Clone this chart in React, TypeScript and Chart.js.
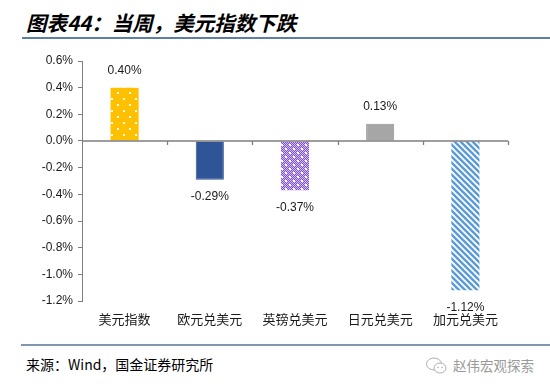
import React, { useEffect, useRef } from "react";
import { Chart, registerables } from "chart.js";

Chart.register(...registerables);

const categories: string[] = ["美元指数", "欧元兑美元", "英镑兑美元", "日元兑美元", "加元兑美元"];
const values: number[] = [0.4, -0.29, -0.37, 0.13, -1.12];
const valueLabels: string[] = ["0.40%", "-0.29%", "-0.37%", "0.13%", "-1.12%"];
const yMin = -1.2;
const yMax = 0.6;
const yStep = 0.2;

const TITLE = "图表44：当周，美元指数下跌";
const SOURCE = "来源：Wind，国金证券研究所";
const WATERMARK = "赵伟宏观探索";

function makeTile(w: number, h: number, draw: (c: CanvasRenderingContext2D) => void): CanvasPattern | string {
  const cv = document.createElement("canvas");
  cv.width = w;
  cv.height = h;
  const c = cv.getContext("2d");
  if (!c) return "#888";
  draw(c);
  const p = c.createPattern(cv, "repeat");
  return p || "#888";
}

function buildFills() {
  const yellow = makeTile(12, 12, (c) => {
    c.fillStyle = "#FFC000";
    c.fillRect(0, 0, 12, 12);
    c.fillStyle = "rgba(255,255,255,0.95)";
    c.fillRect(3, 3, 2, 2);
    c.fillRect(9, 9, 2, 2);
  });
  const purple = makeTile(8, 8, (c) => {
    c.fillStyle = "#D2C0EE";
    c.fillRect(0, 0, 8, 8);
    c.fillStyle = "#8250CC";
    for (let y = 0; y < 8; y++) {
      for (let x = 0; x < 8; x++) {
        if ((x + y) % 2 === 0) c.fillRect(x, y, 1, 1);
      }
    }
    c.fillStyle = "#ffffff";
    c.fillRect(1, 1, 2, 2);
    c.fillRect(5, 5, 2, 2);
  });
  const stripes = makeTile(6, 6, (c) => {
    c.fillStyle = "#ffffff";
    c.fillRect(0, 0, 6, 6);
    c.strokeStyle = "#5B9BD5";
    c.lineWidth = 2.4;
    c.beginPath();
    c.moveTo(-3, -3);
    c.lineTo(9, 9);
    c.moveTo(-3, 3);
    c.lineTo(3, 9);
    c.moveTo(3, -3);
    c.lineTo(9, 3);
    c.stroke();
  });
  return [yellow, "#2F5597", purple, "#A6A6A6", stripes];
}

const zeroLinePlugin = {
  id: "zeroLine",
  afterDatasetsDraw(chart: any) {
    const { ctx, chartArea, scales } = chart;
    const y0 = scales.y.getPixelForValue(0);
    ctx.save();
    ctx.strokeStyle = "#7f7f7f";
    ctx.lineWidth = 1.3;
    ctx.beginPath();
    ctx.moveTo(chartArea.left, y0);
    ctx.lineTo(chartArea.right, y0);
    const n = categories.length;
    const w = (chartArea.right - chartArea.left) / n;
    for (let i = 1; i <= n; i++) {
      const x = Math.round(chartArea.left + w * i) + 0.5;
      ctx.moveTo(x, y0);
      ctx.lineTo(x, y0 + 4);
    }
    ctx.stroke();
    ctx.restore();
  },
};

const valueLabelPlugin = {
  id: "valueLabels",
  afterDatasetsDraw(chart: any) {
    const { ctx } = chart;
    const meta = chart.getDatasetMeta(0);
    ctx.save();
    ctx.font = "12px 'Liberation Sans', Arial, sans-serif";
    ctx.fillStyle = "#1a1a1a";
    ctx.textAlign = "center";
    ctx.textBaseline = "middle";
    meta.data.forEach((el: any, i: number) => {
      const v = values[i];
      const y = v >= 0 ? el.y - 17 : el.y + 17;
      ctx.fillText(valueLabels[i], el.x, y);
    });
    ctx.restore();
  },
};

function ChartBox() {
  const ref = useRef<HTMLCanvasElement | null>(null);
  useEffect(() => {
    if (!ref.current) return;
    const fills = buildFills();
    const chart = new Chart(ref.current, {
      type: "bar",
      data: {
        labels: categories,
        datasets: [
          {
            data: values,
            backgroundColor: fills as any,
            borderColor: ["#FFC000", "#2F5597", "#8a62c8", "#8f8f8f", "#8fb8e3"],
            borderWidth: [0, 1, 0, 1, 0],
            barPercentage: 0.33,
            categoryPercentage: 1,
          },
        ],
      },
      options: {
        animation: false,
        responsive: false,
        maintainAspectRatio: false,
        layout: { padding: { top: 14, right: 42, left: 0, bottom: 0 } },
        plugins: {
          legend: { display: false },
          tooltip: { enabled: false },
          title: { display: false },
        },
        scales: {
          x: {
            grid: { display: false, drawTicks: false },
            border: { display: false },
            ticks: {
              padding: 10,
              color: "#1a1a1a",
              font: { family: "'Noto Sans CJK SC', sans-serif", size: 13 },
              maxRotation: 0,
              autoSkip: false,
            },
            afterFit: (s: any) => {
              s.height = 36;
            },
          },
          y: {
            min: yMin,
            max: yMax,
            grid: { drawOnChartArea: false, drawTicks: true, tickLength: 4, color: "#7f7f7f" },
            border: { display: true, color: "#7f7f7f", width: 1 },
            ticks: {
              stepSize: yStep,
              padding: 5,
              color: "#1a1a1a",
              font: { family: "'Liberation Sans', Arial, sans-serif", size: 12 },
              callback: (v: any) => Number(v).toFixed(1) + "%",
            },
            afterFit: (s: any) => {
              s.width = 82;
            },
          },
        },
      },
      plugins: [zeroLinePlugin, valueLabelPlugin],
    });
    return () => chart.destroy();
  }, []);
  return <canvas ref={ref} width={550} height={290} style={{ position: "absolute", left: 0, top: 47, width: 550, height: 290 }} />;
}

export default function App() {
  return (
    <div
      style={{
        position: "absolute",
        left: 0,
        top: 0,
        width: 550,
        height: 386,
        background: "#ffffff",
        overflow: "hidden",
        fontFamily: "'Noto Sans CJK SC', sans-serif",
      }}
    >
      <div
        style={{
          position: "absolute",
          left: 26,
          top: 10,
          fontSize: 20.5,
          lineHeight: "24px",
          fontWeight: "bold",
          fontStyle: "italic",
          color: "#000",
          whiteSpace: "nowrap",
        }}
      >
        {TITLE}
      </div>
      <div style={{ position: "absolute", left: 22, top: 37, width: 528, height: 2, background: "#5f7f9f" }} />
      <ChartBox />
      <div style={{ position: "absolute", left: 21, top: 344, width: 529, height: 2, background: "#7f98b0" }} />
      <div
        style={{
          position: "absolute",
          left: 26,
          top: 354,
          fontSize: 14,
          lineHeight: "20px",
          color: "#000",
          whiteSpace: "nowrap",
        }}
      >
        {SOURCE}
      </div>
      <svg style={{ position: "absolute", left: 425, top: 357 }} width={24} height={18} viewBox="0 0 24 18">
        <ellipse cx={9} cy={7} rx={7.5} ry={6} fill="none" stroke="#b0b0b0" strokeWidth={1} />
        <ellipse cx={15} cy={11} rx={6} ry={5} fill="#fff" stroke="#b0b0b0" strokeWidth={1} />
        <circle cx={13} cy={10.5} r={0.8} fill="#b0b0b0" />
        <circle cx={17} cy={10.5} r={0.8} fill="#b0b0b0" />
      </svg>
      <div
        style={{
          position: "absolute",
          left: 453,
          top: 356,
          fontSize: 13.5,
          lineHeight: "18px",
          color: "#9a9a9a",
          whiteSpace: "nowrap",
        }}
      >
        {WATERMARK}
      </div>
    </div>
  );
}
